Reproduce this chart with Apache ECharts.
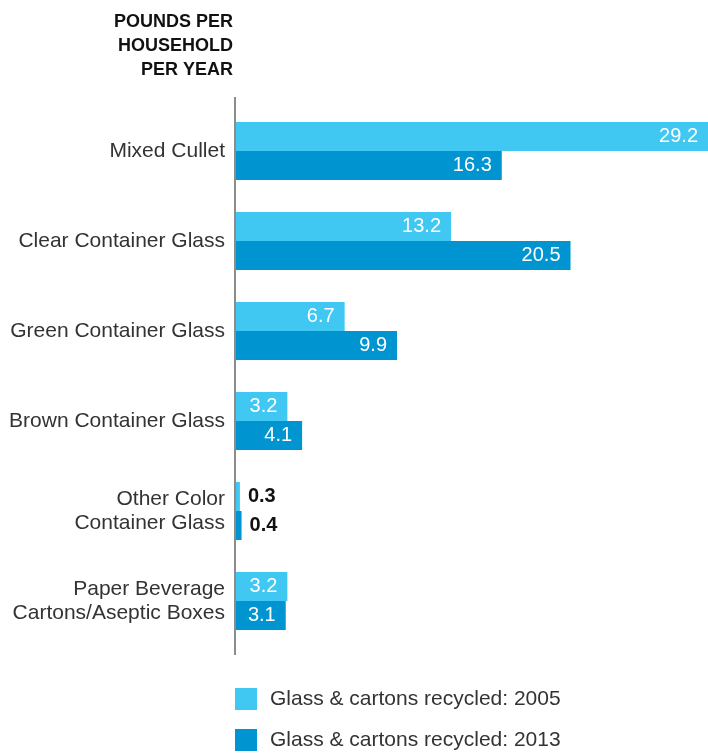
<!DOCTYPE html>
<html>
<head>
<meta charset="utf-8">
<script src="https://cdn.jsdelivr.net/npm/echarts@6/dist/echarts.min.js"></script>
<style>html,body{margin:0;padding:0;background:#fff;}#c{width:708px;height:753px;}</style>
</head>
<body>
<div id="c"></div>
<script>
var categories = ['Mixed Cullet', 'Clear Container Glass', 'Green Container Glass', 'Brown Container Glass', 'Other Color\nContainer Glass', 'Paper Beverage\nCartons/Aseptic Boxes'];
var seriesNames = ['Glass & cartons recycled: 2005', 'Glass & cartons recycled: 2013'];
var values2005 = [29.2, 13.2, 6.7, 3.2, 0.3, 3.2];
var values2013 = [16.3, 20.5, 9.9, 4.1, 0.4, 3.1];
var unitTitle = 'POUNDS PER\nHOUSEHOLD\nPER YEAR';
var colors = ['#40C8F3', '#0095D1'];
var FONT = '"Liberation Sans", Arial, Helvetica, sans-serif';

function makeData(vals) {
  return vals.map(function (v) {
    if (v < 1) {
      return { value: v, label: { position: 'right', distance: 8, color: '#111', fontWeight: 'bold' } };
    }
    return v;
  });
}

var chart = echarts.init(document.getElementById('c'), null, { renderer: 'canvas' });
var option = {
  animation: false,
  backgroundColor: '#fff',
  textStyle: { fontFamily: FONT },
  grid: { left: 235, right: 0, top: 106, bottom: 107, containLabel: false },
  legend: {
    orient: 'vertical',
    left: 235,
    top: 688,
    padding: 0,
    itemWidth: 22,
    itemHeight: 22,
    itemGap: 19,
    icon: 'rect',
    selectedMode: false,
    textStyle: { fontSize: 21, color: '#333', fontFamily: FONT, padding: [0, 0, 0, 8] },
    data: seriesNames
  },
  xAxis: {
    type: 'value', min: 0, max: 28.9,
    show: false
  },
  yAxis: {
    type: 'category',
    inverse: true,
    data: categories,
    axisLine: { show: false },
    axisTick: { show: false },
    axisLabel: { fontSize: 21, color: '#333', margin: 10, lineHeight: 24, fontFamily: FONT, align: 'right', padding: [3, 0, 0, 0] }
  },
  series: [
    {
      name: seriesNames[0], type: 'bar', data: makeData(values2005),
      barWidth: 29, barGap: '0%',
      itemStyle: { color: colors[0] },
      label: { show: true, position: 'insideRight', distance: 10, color: '#fff', fontSize: 20, fontFamily: FONT, padding: [2, 0, 0, 0] }
    },
    {
      name: seriesNames[1], type: 'bar', data: makeData(values2013),
      barWidth: 29, barGap: '0%',
      itemStyle: { color: colors[1] },
      label: { show: true, position: 'insideRight', distance: 10, color: '#fff', fontSize: 20, fontFamily: FONT, padding: [2, 0, 0, 0] }
    }
  ]
};
chart.setOption(option);
var x0 = chart.convertToPixel({ xAxisIndex: 0 }, 0);
chart.setOption({
  graphic: [
    { type: 'line', shape: { x1: x0, y1: 97, x2: x0, y2: 655 }, style: { stroke: '#8c8c8c', lineWidth: 2 }, z: 10 },
    { type: 'text', x: x0 - 2, y: 10, style: { text: unitTitle, align: 'right', verticalAlign: 'top', fill: '#111', font: 'bold 18px ' + FONT, lineHeight: 24 } }
  ]
});
</script>
</body>
</html>
